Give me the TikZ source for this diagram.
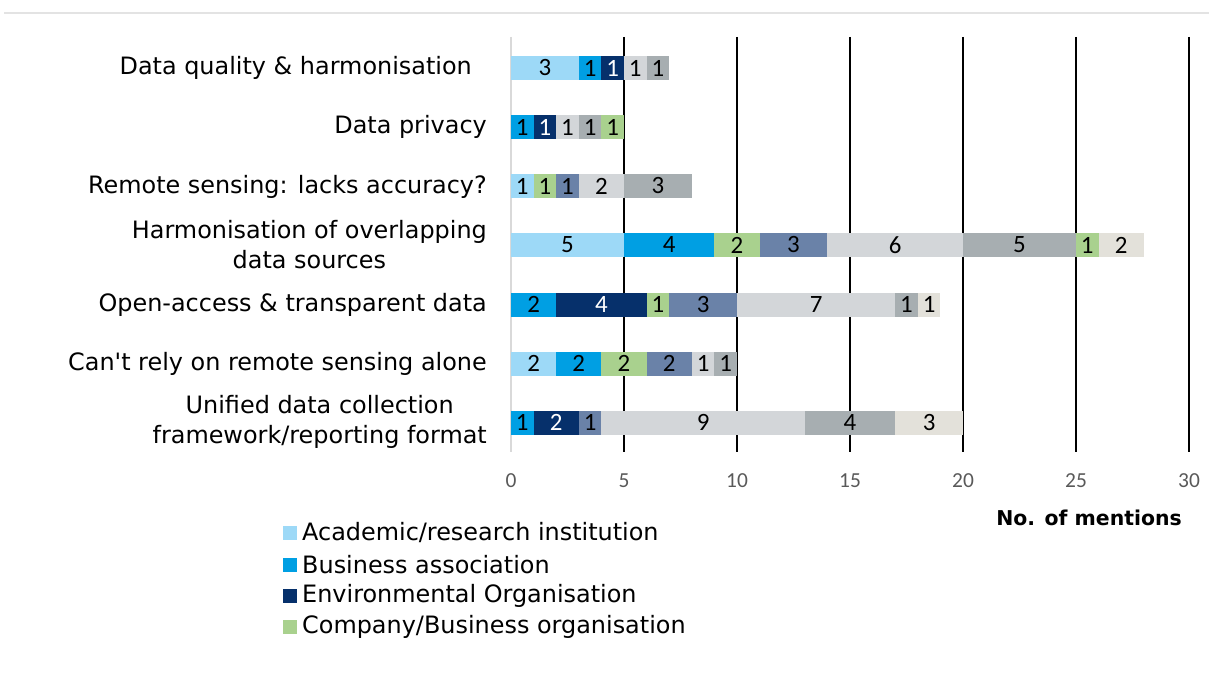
\documentclass[tikz,border=0pt]{standalone}
\usepackage{fontspec}
\setmainfont{DejaVu Sans}[Ligatures=TeXOff]
\newfontfamily\numfont{Carlito}
\definecolor{acad}{HTML}{9DD9F7}
\definecolor{bass}{HTML}{009FE3}
\definecolor{envo}{HTML}{06306B}
\definecolor{comp}{HTML}{A9D18E}
\definecolor{slate}{HTML}{6A82A8}
\definecolor{lgray}{HTML}{D3D6D9}
\definecolor{mgray}{HTML}{A7AEB1}
\definecolor{beige}{HTML}{E3E1DA}
\definecolor{tickgray}{HTML}{595959}
\definecolor{axisgray}{HTML}{D9D9D9}
\definecolor{topline}{HTML}{E3E3E3}
\newcommand\unitpx{22.6}
\newcommand\segm[7]{% name, y, start, len, fill, textcolor, label
  \node[segbox, fill=#5, text=#6, minimum width={\unitpx*#4*1bp}] (#1) at ({511+\unitpx*(#3+#4/2)},#2) {#7};}
\begin{document}
\begin{tikzpicture}[x=1bp,y=-1bp,
  segbox/.style={inner sep=0pt, outer sep=0pt, minimum height=24bp, font=\numfont\fontsize{25}{25}\selectfont},
  catlabel/.style={anchor=east, align=center, inner sep=0pt, font=\fontsize{24}{30}\selectfont},
  ticklabel/.style={inner sep=0pt, text=tickgray, font=\numfont\fontsize{21.5}{22}\selectfont},
  legtext/.style={anchor=west, inner sep=0pt, font=\fontsize{24}{25}\selectfont},
  legsq/.style={inner sep=0pt, minimum size=14bp}]
\useasboundingbox (0,0) rectangle (1209,689);
\draw[topline, line width=1.2bp] (4,13) -- (1209,13);
% gridlines
\foreach \v in {5,10,...,30} \draw[black, line width=1.8bp] ({511+\unitpx*\v},37) -- ({511+\unitpx*\v},452);
\draw[axisgray, line width=2bp] (511,37) -- (511,452);
% tick labels
\foreach \v in {0,5,...,30} \node[ticklabel] (t\v) at ({511+\unitpx*\v},481) {\v};
\node[anchor=east, inner sep=0pt, font=\bfseries\fontsize{20.5}{21}\selectfont] (axtitle) at (1182,518) {No. of mentions};
% category labels
\node[catlabel] (c1) at (472,68) {Data quality \& harmonisation};
\node[catlabel] (c2) at (487,127) {Data privacy};
\node[catlabel] (c3) at (487,187) {Remote sensing: lacks accuracy?};
\node[catlabel] (c4) at (487,245) {Harmonisation of overlapping\\data sources};
\node[catlabel] (c5) at (487,305) {Open-access \& transparent data};
\node[catlabel] (c6) at (487,364) {Can't rely on remote sensing alone};
\node[catlabel] (c7) at (487,422) {Unified data collection\\framework/reporting format};
% row 1
\segm{r1a}{68}{0}{3}{acad}{black}{3}
\segm{r1b}{68}{3}{1}{bass}{black}{1}
\segm{r1c}{68}{4}{1}{envo}{white}{1}
\segm{r1d}{68}{5}{1}{lgray}{black}{1}
\segm{r1e}{68}{6}{1}{mgray}{black}{1}
% row 2
\segm{r2a}{127}{0}{1}{bass}{black}{1}
\segm{r2b}{127}{1}{1}{envo}{white}{1}
\segm{r2c}{127}{2}{1}{lgray}{black}{1}
\segm{r2d}{127}{3}{1}{mgray}{black}{1}
\segm{r2e}{127}{4}{1}{comp}{black}{1}
% row 3
\segm{r3a}{186}{0}{1}{acad}{black}{1}
\segm{r3b}{186}{1}{1}{comp}{black}{1}
\segm{r3c}{186}{2}{1}{slate}{black}{1}
\segm{r3d}{186}{3}{2}{lgray}{black}{2}
\segm{r3e}{186}{5}{3}{mgray}{black}{3}
% row 4
\segm{r4a}{245}{0}{5}{acad}{black}{5}
\segm{r4b}{245}{5}{4}{bass}{black}{4}
\segm{r4c}{245}{9}{2}{comp}{black}{2}
\segm{r4d}{245}{11}{3}{slate}{black}{3}
\segm{r4e}{245}{14}{6}{lgray}{black}{6}
\segm{r4f}{245}{20}{5}{mgray}{black}{5}
\segm{r4g}{245}{25}{1}{comp}{black}{1}
\segm{r4h}{245}{26}{2}{beige}{black}{2}
% row 5
\segm{r5a}{304.5}{0}{2}{bass}{black}{2}
\segm{r5b}{304.5}{2}{4}{envo}{white}{4}
\segm{r5c}{304.5}{6}{1}{comp}{black}{1}
\segm{r5d}{304.5}{7}{3}{slate}{black}{3}
\segm{r5e}{304.5}{10}{7}{lgray}{black}{7}
\segm{r5f}{304.5}{17}{1}{mgray}{black}{1}
\segm{r5g}{304.5}{18}{1}{beige}{black}{1}
% row 6
\segm{r6a}{363.5}{0}{2}{acad}{black}{2}
\segm{r6b}{363.5}{2}{2}{bass}{black}{2}
\segm{r6c}{363.5}{4}{2}{comp}{black}{2}
\segm{r6d}{363.5}{6}{2}{slate}{black}{2}
\segm{r6e}{363.5}{8}{1}{lgray}{black}{1}
\segm{r6f}{363.5}{9}{1}{mgray}{black}{1}
% row 7
\segm{r7a}{422.5}{0}{1}{bass}{black}{1}
\segm{r7b}{422.5}{1}{2}{envo}{white}{2}
\segm{r7c}{422.5}{3}{1}{slate}{black}{1}
\segm{r7d}{422.5}{4}{9}{lgray}{black}{9}
\segm{r7e}{422.5}{13}{4}{mgray}{black}{4}
\segm{r7f}{422.5}{17}{3}{beige}{black}{3}
% legend
\node[legsq, fill=acad] (l1s) at (290,533) {};
\node[legtext] (l1) at (302,533) {Academic/research institution};
\node[legsq, fill=bass] (l2s) at (290,565) {};
\node[legtext] (l2) at (302,565) {Business association};
\node[legsq, fill=envo] (l3s) at (290,596) {};
\node[legtext] (l3) at (302,596) {Environmental Organisation};
\node[legsq, fill=comp] (l4s) at (290,627) {};
\node[legtext] (l4) at (302,627) {Company/Business organisation};
\end{tikzpicture}
\end{document}
